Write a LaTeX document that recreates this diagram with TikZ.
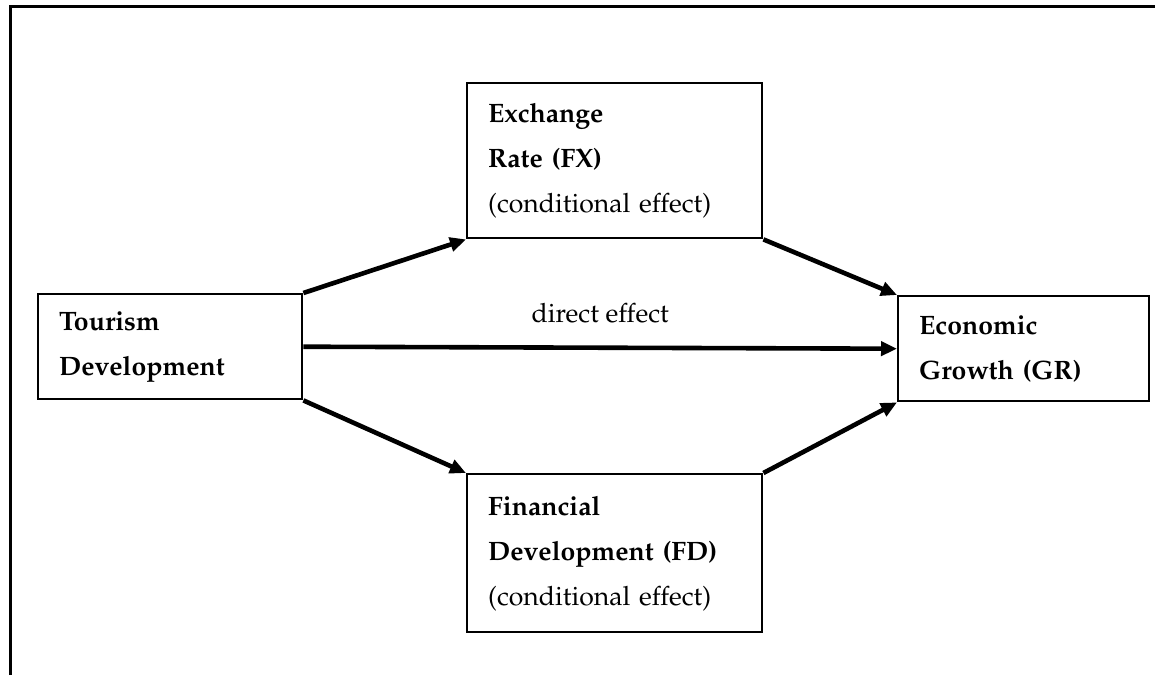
\documentclass[tikz,border=0pt]{standalone}
\usepackage[T1]{fontenc}
\usepackage{mathpazo}
\usepackage{tikz}
\usetikzlibrary{arrows.meta,positioning}

\tikzset{
  box/.style={draw,line width=1.2pt,rectangle,anchor=north west,align=left,
    inner xsep=10.5pt,font=\fontsize{13.3}{22.5}\selectfont},
  arr/.style={-{Triangle[length=8pt,width=7pt]},line width=2.3pt}
}

\begin{document}
\begin{tikzpicture}[x=0.5pt,y=-0.5pt]
\useasboundingbox (0,0) rectangle (1155,675);
\draw[line width=1.2pt] (10.5,675) -- (10.5,6.5) -- (1155,6.5);

\node[box,text width=111pt,minimum height=52.5pt] (td) at (37,293) {\textbf{Tourism}\\\textbf{Development}};
\node[box,text width=126.5pt,minimum height=77.5pt] (fx) at (466,82) {\textbf{Exchange}\\\textbf{Rate (FX)}\\(conditional effect)};
\node[box,text width=126.5pt,minimum height=79pt] (fd) at (466,473) {\textbf{Financial}\\\textbf{Development (FD)}\\(conditional effect)};
\node[box,text width=104.5pt,minimum height=52.5pt] (gr) at (897,295) {\textbf{Economic}\\\textbf{Growth (GR)}};

\path[arr]
     (td.north east) edge (fx.south west)
     (td.east) edge node[above=8pt,font=\fontsize{13.3}{16}\selectfont] {direct effect} (gr.west)
     (td.south east) edge (fd.north west)
     (fx.south east) edge (gr.north west)
     (fd.north east) edge (gr.south west)
     ;
\end{tikzpicture}
\end{document}
